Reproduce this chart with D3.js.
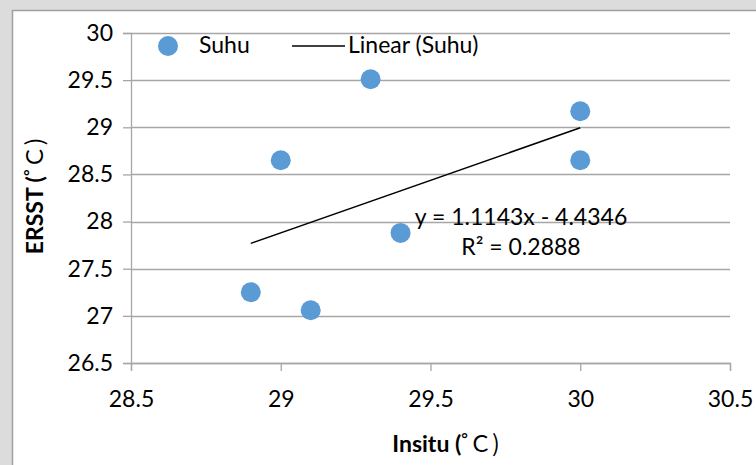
<!DOCTYPE html>
<html><head><meta charset="utf-8">
<script src="https://cdn.jsdelivr.net/npm/d3@7"></script>
<style>body{margin:0;background:#dcdcdc;} svg{display:block;}</style>
</head><body>
<svg id="c" width="756" height="465"></svg>
<script>
const insitu = [28.9, 29.0, 29.1, 29.3, 29.4, 30.0, 30.0];
const ersst  = [27.25, 28.65, 27.06, 29.51, 27.88, 29.17, 28.65];
const xTicks = [28.5, 29, 29.5, 30, 30.5];
const yTicks = [26.5, 27, 27.5, 28, 28.5, 29, 29.5, 30];
const slope = 1.1143, intercept = -4.4346;
const eqLabels = ["y = 1.1143x - 4.4346", "R\u00B2 = 0.2888"];
const seriesName = "Suhu";
const trendName = "Linear (Suhu)";

const svg = d3.select("#c");
const font = "Lato, 'Open Sans', sans-serif";
const cjk = "'Noto Sans CJK SC', sans-serif";
svg.append("rect").attr("x",0).attr("y",0).attr("width",756).attr("height",465).attr("fill","#dcdcdc");
svg.append("rect").attr("x",12.5).attr("y",10.5).attr("width",760).attr("height",470)
  .attr("fill","#fff").attr("stroke","#a0a0a0").attr("stroke-width",1.5);

const x = d3.scaleLinear().domain([28.5, 30.5]).range([131, 730]);
const y = d3.scaleLinear().domain([26.5, 30]).range([363, 33]);

// gridlines
svg.append("g").selectAll("line").data(yTicks).join("line")
  .attr("x1", x(28.5)).attr("x2", x(30.5))
  .attr("y1", d=>Math.round(y(d))+0.5).attr("y2", d=>Math.round(y(d))+0.5)
  .attr("stroke","#a6a6a6").attr("stroke-width",1.3);

const yAxis = svg.append("g").attr("transform",`translate(${x(28.5)},0)`)
  .call(d3.axisLeft(y).tickValues(yTicks).tickFormat(d3.format("")).tickSize(8).tickPadding(10));
const xAxis = svg.append("g").attr("transform",`translate(0,${y(26.5)})`)
  .call(d3.axisBottom(x).tickValues(xTicks).tickFormat(d3.format("")).tickSize(8).tickPadding(0));
[yAxis, xAxis].forEach(a=>{
  a.select(".domain").attr("stroke","#a6a6a6").attr("stroke-width",1.3);
  a.selectAll(".tick line").attr("stroke","#a6a6a6").attr("stroke-width",1.3);
  a.selectAll("text").attr("font-family",font).attr("font-size",23).attr("fill","#000");
});
xAxis.selectAll("text").attr("y",44).attr("dy",0);

// trendline
const xmin = d3.min(insitu), xmax = d3.max(insitu);
svg.append("line")
  .attr("x1", x(xmin)).attr("y1", y(slope*xmin+intercept))
  .attr("x2", x(xmax)).attr("y2", y(slope*xmax+intercept))
  .attr("stroke","#000").attr("stroke-width",1.5);

// points
svg.append("g").selectAll("circle").data(insitu).join("circle")
  .attr("cx",(d)=>x(d)).attr("cy",(d,i)=>y(ersst[i])).attr("r",10).attr("fill","#5b9bd5");

// equation
svg.append("g").selectAll("text").data(eqLabels).join("text")
  .attr("x",521).attr("y",(d,i)=>225+i*30).attr("text-anchor","middle")
  .attr("font-family",font).attr("font-size",23).attr("fill","#000").text(d=>d);

// legend
svg.append("circle").attr("cx",168).attr("cy",46).attr("r",10).attr("fill","#5b9bd5");
svg.append("text").attr("x",199).attr("y",53).attr("font-family",font).attr("font-size",23).text(seriesName);
svg.append("line").attr("x1",292).attr("x2",345).attr("y1",46).attr("y2",46).attr("stroke","#000").attr("stroke-width",1.5);
svg.append("text").attr("x",348).attr("y",53).attr("font-family",font).attr("font-size",23).text(trendName);

// axis titles
const xt = svg.append("text").attr("x",446).attr("y",452).attr("text-anchor","middle")
  .attr("font-family",font).attr("font-size",23).attr("font-weight","bold");
xt.append("tspan").text("Insitu (");
xt.append("tspan").attr("font-family",cjk).attr("font-weight","normal").text("\u02DA\uFF23)");
const yt = svg.append("text").attr("transform","translate(43,196) rotate(-90)").attr("text-anchor","middle")
  .attr("font-family",font).attr("font-size",23).attr("font-weight","bold");
yt.append("tspan").text("ERSST (");
yt.append("tspan").attr("font-family",cjk).attr("font-weight","normal").text("\u02DA\uFF23)");
</script>
</body></html>
